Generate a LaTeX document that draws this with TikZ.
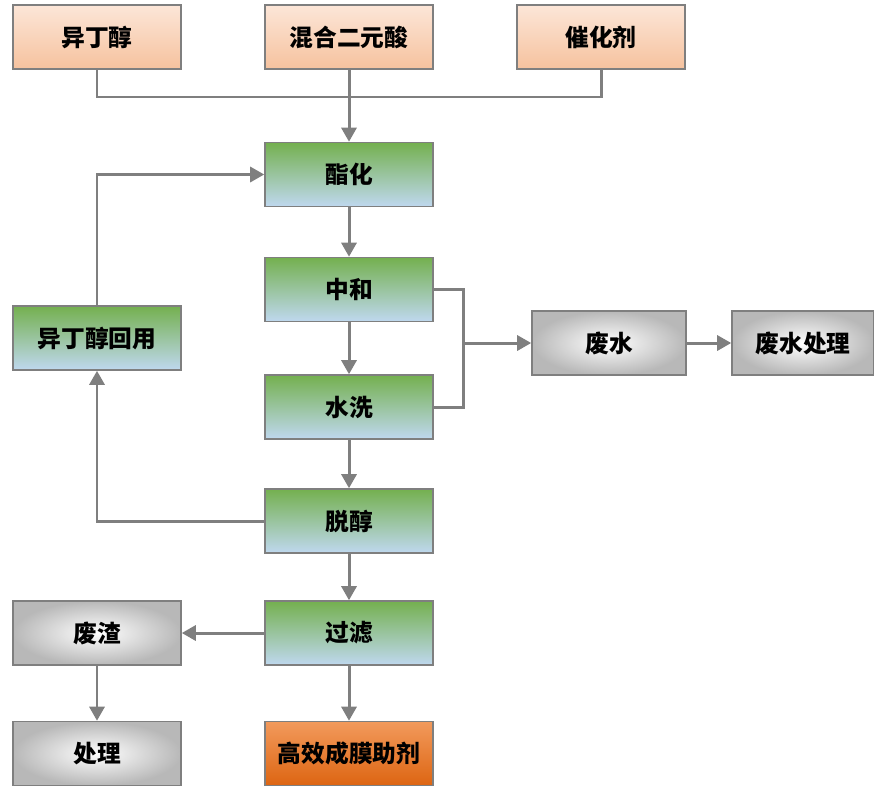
\documentclass[tikz,border=0pt]{standalone}
\usepackage{fontspec}
\usepackage{tikz}
\usetikzlibrary{arrows.meta}
\newfontfamily\cjk{Noto Sans CJK SC}

\definecolor{peachT}{HTML}{FCE6D8}
\definecolor{peachB}{HTML}{F6C29E}
\definecolor{greenT}{HTML}{74B04F}
\definecolor{blueB}{HTML}{BFD8EF}
\definecolor{grayO}{HTML}{B8B8B8}
\definecolor{prodT}{HTML}{F29A5C}
\definecolor{prodB}{HTML}{DD6512}
\definecolor{lineC}{HTML}{7F7F7F}

\begin{document}
\begin{tikzpicture}[x=0.02cm,y=-0.02cm,
 box/.style={draw=lineC,line width=0.9pt,minimum width=3.36cm,minimum height=1.28cm,
  inner sep=0pt,font=\cjk\bfseries\fontsize{13.5}{16}\selectfont},
 feed/.style={box,top color=peachT,bottom color=peachB},
 proc/.style={box,top color=greenT,bottom color=blueB},
 waste/.style={box,inner color=white,outer color=grayO},
 prod/.style={box,top color=prodT,bottom color=prodB},
 link/.style={lineC,line width=1.7pt},
 flow/.style={link,-{Triangle[length=0.28cm,width=0.3cm]}}]
\useasboundingbox (0,0) rectangle (874,785);
% feeds
\node[feed] (yd) at (97,37) {异丁醇};
\node[feed] (hh) at (349,37) {混合二元酸};
\node[feed] (chj) at (601,37) {催化剂};
% main line
\node[proc] (zh) at (349,174.5) {酯化};
\node[proc] (zhh) at (349,289.5) {中和};
\node[proc] (sx) at (349,407) {水洗};
\node[proc] (tc) at (349,521) {脱醇};
\node[proc] (gl) at (349,633) {过滤};
\node[prod] (cp) at (349,753.5) {高效成膜助剂};
\node[proc] (hy) at (97,338) {异丁醇回用};
% waste
\node[waste] (fz) at (97,633) {废渣};
\node[waste] (cl) at (97,753.5) {处理};
\node[waste,minimum width=3.08cm] (fs) at (609,343) {废水};
\node[waste,minimum width=2.84cm] (fscl) at (803,343) {废水处理};

\draw[link] (yd.south) |- (349,97) -| (chj.south);
\draw[flow] (hh.south) -- (zh.north);
\foreach \a/\b in {zh/zhh,zhh/sx,sx/tc,tc/gl,gl/cp,fz/cl}
 \draw[flow] (\a) -- (\b);
\draw[flow] (tc.west) -| (hy.south);
\draw[flow] (hy.north) |- (zh.west);
\coordinate (jw) at (463,343);
\draw[link] (zhh.east) -| (jw) |- (sx.east);
\draw[flow] (jw) -- (fs.west);
\draw[flow] (fs) -- (fscl);
\draw[flow] (gl) -- (fz);
\end{tikzpicture}
\end{document}
